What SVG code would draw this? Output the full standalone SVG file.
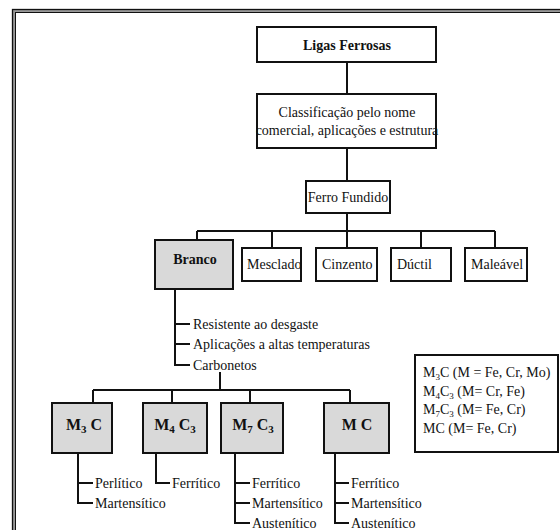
<svg xmlns="http://www.w3.org/2000/svg" width="560" height="530" viewBox="0 0 560 530">
<style>
.box{fill:#fff;stroke:#111;stroke-width:2}
.gbox{fill:#d9d9d9;stroke:#111;stroke-width:2}
.ln{fill:none;stroke:#111;stroke-width:2}
text{font-family:'Liberation Serif','DejaVu Serif',serif;font-size:14px;fill:#111}
.b{font-weight:bold}
.big{font-weight:bold;font-size:16px}
.sub{font-size:11px}
.lsub{font-size:9px}
.c{text-anchor:middle}
</style>
<rect width="560" height="530" fill="#fff"/>
<g id="frame">
<rect x="14" y="11" width="570" height="540" fill="none" stroke="#999" stroke-width="4"/>
<rect x="12.5" y="9.5" width="570" height="540" fill="none" stroke="#111" stroke-width="1.3"/>
<rect x="15.5" y="12.5" width="570" height="540" fill="none" stroke="#111" stroke-width="1"/>
</g>
<g id="connectors">
<path class="ln" d="M347 62V94M347 148V181M347 213V231M197 231H495M197 231V240M272 231V248M347 231V248M421 231V248M495 231V248"/>
<path class="ln" d="M175 289V365H190M175 324H190M175 344H190"/>
<path class="ln" d="M220 372V390M93 390H350M93 390V403M172 390V403M250 390V403M350 390V403"/>
<path class="ln" d="M78 453V503H93M78 483H93"/>
<path class="ln" d="M156 453V483H170"/>
<path class="ln" d="M235 453V523H250M235 483H250M235 503H250"/>
<path class="ln" d="M335 453V523H349M335 483H349M335 503H349"/>
</g>
<g id="ligas"><rect class="box" x="257" y="27" width="179" height="35"/><text class="b c" x="347" y="49.5" font-family="Liberation Serif, serif">Ligas Ferrosas</text></g>
<g id="classificacao"><rect class="box" x="257" y="94" width="179" height="54"/><text class="c" x="347" y="117">Classificação pelo nome</text><text class="c" x="347" y="135">comercial, aplicações e estrutura</text></g>
<g id="ferro"><rect class="box" x="306" y="181" width="84" height="32"/><text class="c" x="348" y="202">Ferro Fundido</text></g>
<g id="branco"><rect class="gbox" x="155" y="240" width="78" height="49"/><text class="b c" x="195" y="264">Branco</text></g>
<g id="mesclado"><rect class="box" x="242" y="248" width="59" height="33"/><text x="247" y="269">Mesclado</text></g>
<g id="cinzento"><rect class="box" x="316" y="248" width="61" height="33"/><text x="322" y="269">Cinzento</text></g>
<g id="ductil"><rect class="box" x="391" y="248" width="60" height="33"/><text x="397" y="269">Dúctil</text></g>
<g id="maleavel"><rect class="box" x="465" y="248" width="62" height="33"/><text x="471" y="269">Maleável</text></g>
<g id="branco-props">
<text x="193" y="329">Resistente ao desgaste</text>
<text x="193" y="349">Aplicações a altas temperaturas</text>
<text x="193" y="370">Carbonetos</text>
</g>
<g id="m3c"><rect class="gbox" x="52" y="403" width="60" height="50"/><text class="big c" x="84" y="430">M<tspan class="sub" dy="3">3</tspan><tspan dy="-3"> C</tspan></text></g>
<g id="m4c3"><rect class="gbox" x="143" y="403" width="64" height="50"/><text class="big c" x="175" y="430">M<tspan class="sub" dy="3">4</tspan><tspan dy="-3"> C</tspan><tspan class="sub" dy="3">3</tspan></text></g>
<g id="m7c3"><rect class="gbox" x="221" y="403" width="62" height="50"/><text class="big c" x="253" y="430">M<tspan class="sub" dy="3">7</tspan><tspan dy="-3"> C</tspan><tspan class="sub" dy="3">3</tspan></text></g>
<g id="mc"><rect class="gbox" x="324" y="403" width="65" height="50"/><text class="big c" x="357" y="430">M C</text></g>
<g id="m3c-list"><text x="95" y="488">Perlítico</text><text x="95" y="508">Martensítico</text></g>
<g id="m4c3-list"><text x="172" y="488">Ferrítico</text></g>
<g id="m7c3-list"><text x="252" y="488">Ferrítico</text><text x="252" y="508">Martensítico</text><text x="252" y="528">Austenítico</text></g>
<g id="mc-list"><text x="351" y="488">Ferrítico</text><text x="351" y="508">Martensítico</text><text x="351" y="528">Austenítico</text></g>
<g id="legend"><rect class="box" x="415" y="355" width="143" height="97"/>
<text x="423" y="377">M<tspan class="lsub" dy="3">3</tspan><tspan dy="-3">C (M = Fe, Cr, Mo)</tspan></text>
<text x="423" y="396">M<tspan class="lsub" dy="3">4</tspan><tspan dy="-3">C</tspan><tspan class="lsub" dy="3">3</tspan><tspan dy="-3"> (M= Cr, Fe)</tspan></text>
<text x="423" y="414">M<tspan class="lsub" dy="3">7</tspan><tspan dy="-3">C</tspan><tspan class="lsub" dy="3">3</tspan><tspan dy="-3"> (M= Fe, Cr)</tspan></text>
<text x="423" y="433">MC (M= Fe, Cr)</text>
</g>
</svg>
